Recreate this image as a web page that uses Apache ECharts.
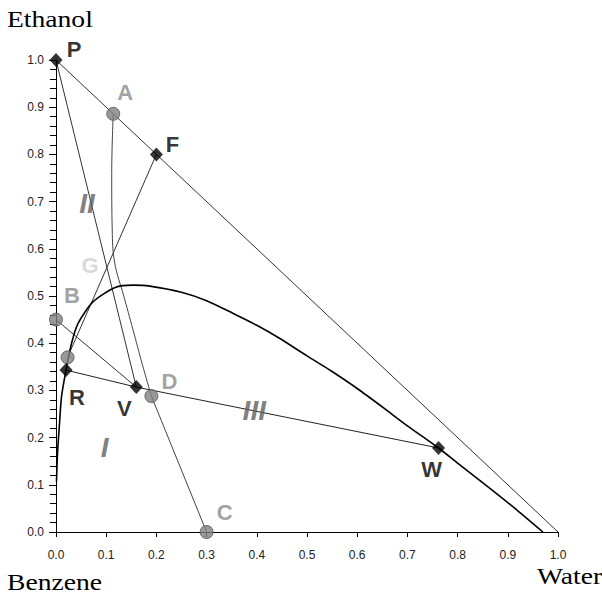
<!DOCTYPE html>
<html>
<head>
<meta charset="utf-8">
<script src="https://cdn.jsdelivr.net/npm/echarts@6/dist/echarts.min.js"></script>
<style>
  html, body { margin: 0; padding: 0; background: #fff; }
  #chart { width: 602px; height: 597px; }
</style>
</head>
<body>
<div id="chart"></div>
<script>
// tick labels
var tickLabels = ['0.0', '0.1', '0.2', '0.3', '0.4', '0.5', '0.6', '0.7', '0.8', '0.9', '1.0'];

// binodal curve (water fraction, ethanol fraction)
var binodalX = [0.001, 0.003, 0.007, 0.011, 0.020, 0.031, 0.044, 0.074, 0.118, 0.154, 0.187, 0.25, 0.30, 0.353, 0.40, 0.446, 0.50, 0.55, 0.60, 0.65, 0.70, 0.762, 0.80, 0.86, 0.92, 0.970];
var binodalY = [0.107, 0.167, 0.230, 0.287, 0.343, 0.400, 0.442, 0.488, 0.518, 0.523, 0.521, 0.508, 0.490, 0.463, 0.438, 0.410, 0.373, 0.340, 0.304, 0.265, 0.225, 0.178, 0.146, 0.096, 0.045, 0.0];

// curve from A down to D
var curveAX = [0.114, 0.111, 0.112, 0.117, 0.135, 0.153, 0.172, 0.19];
var curveAY = [0.886, 0.76, 0.64, 0.57, 0.50, 0.43, 0.355, 0.288];

// diamond points
var diamondNames = ['P', 'F', 'R', 'V', 'W'];
var diamondX = [0.0, 0.2, 0.02, 0.16, 0.762];
var diamondY = [1.0, 0.8, 0.343, 0.307, 0.178];

// circle points ('' = unlabeled)
var circleNames = ['A', 'B', 'C', 'D', ''];
var circleX = [0.114, 0.0, 0.3, 0.19, 0.023];
var circleY = [0.886, 0.45, 0.0, 0.288, 0.370];

// straight lines: [x1, y1, x2, y2]
var hypotenuse = [0, 1, 1, 0];
var linePV = [0, 1, 0.16, 0.307];
var lineFE = [0.2, 0.8, 0.023, 0.370];
var lineBV = [0, 0.45, 0.16, 0.307];
var lineDC = [0.19, 0.288, 0.3, 0.0];
var tieX = [0.02, 0.16, 0.762];
var tieY = [0.343, 0.307, 0.178];

// region labels
var regionNames = ['I', 'II', 'III', 'G'];
var regionX = [0.097, 0.062, 0.395, 0.068];
var regionY = [0.18, 0.696, 0.257, 0.565];

window.onload = function () {
  var chart = echarts.init(document.getElementById('chart'), null, { renderer: 'svg' });

  function zip(xs, ys) {
    var out = [];
    for (var i = 0; i < xs.length; i++) out.push([xs[i], ys[i]]);
    return out;
  }
  function seg(s) {
    return [[s[0], s[1]], [s[2], s[3]]];
  }
  function plainLine(data, width, color) {
    return {
      type: 'line', data: data, symbol: 'none', silent: true,
      lineStyle: { color: color || '#333', width: width || 1 },
      z: 2
    };
  }

  // label offsets in pixels from the marker centre
  var labelOffset = {
    P: [18, -11], F: [16, -10], R: [11, 27], V: [-12, 21], W: [-7, 22],
    A: [12, -21], B: [16, -24], C: [18, -20], D: [18, -15]
  };
  var regionColor = { I: '#5e5e5e', II: '#5e5e5e', III: '#5e5e5e', G: '#cfcfcf' };

  var diamondData = diamondNames.map(function (n, i) {
    return {
      value: [diamondX[i], diamondY[i]],
      label: { show: true, formatter: n, position: 'inside', offset: labelOffset[n] }
    };
  });
  var circleData = circleNames.map(function (n, i) {
    return {
      value: [circleX[i], circleY[i]],
      label: { show: n !== '', formatter: n, position: 'inside', offset: labelOffset[n] || [0, 0] }
    };
  });
  var regionData = regionNames.map(function (n, i) {
    return {
      value: [regionX[i], regionY[i]],
      label: {
        show: true, formatter: n, position: 'inside', color: regionColor[n],
        fontStyle: n === 'G' ? 'normal' : 'italic',
        fontSize: n === 'G' ? 22 : 28
      }
    };
  });

  var nameFont = '24px "Liberation Serif"';

  var option = {
    backgroundColor: '#fff',
    animation: false,
    grid: { left: 56, top: 60, width: 502, height: 472 },
    xAxis: {
      type: 'value', min: 0, max: 1, interval: 0.1,
      axisLine: { show: true, onZero: false, lineStyle: { color: '#000', width: 1 } },
      axisTick: { show: true, length: 5, lineStyle: { color: '#000', width: 1 } },
      axisLabel: {
        margin: 17, color: '#222', fontFamily: 'Liberation Sans', fontSize: 12,
        formatter: function (v) { return tickLabels[Math.round(v * 10)]; }
      },
      splitLine: { show: false }
    },
    yAxis: {
      type: 'value', min: 0, max: 1, interval: 0.1,
      axisLine: { show: true, onZero: false, lineStyle: { color: '#000', width: 1 } },
      axisTick: { show: true, length: 7, lineStyle: { color: '#000', width: 1 } },
      minorTick: { show: true, splitNumber: 5, length: 6, lineStyle: { color: '#000', width: 1 } },
      axisLabel: {
        margin: 12, color: '#222', fontFamily: 'Liberation Sans', fontSize: 12,
        formatter: function (v) { return tickLabels[Math.round(v * 10)]; }
      },
      splitLine: { show: false }
    },
    graphic: [
      { type: 'text', left: 7, top: 7, scaleX: 1.15, style: { text: 'Ethanol', font: nameFont, fill: '#000' } },
      { type: 'text', left: 7, top: 570, scaleX: 1.15, style: { text: 'Benzene', font: nameFont, fill: '#000' } },
      { type: 'text', left: 537, top: 564, scaleX: 1.15, style: { text: 'Water', font: nameFont, fill: '#000' } }
    ],
    series: [
      plainLine(seg(hypotenuse), 1, '#333'),
      plainLine(seg(linePV), 1, '#333'),
      plainLine(seg(lineFE), 1, '#333'),
      plainLine(seg(lineBV), 1, '#333'),
      plainLine(seg(lineDC), 1, '#444'),
      plainLine(zip(tieX, tieY), 1, '#222'),
      {
        type: 'line', data: zip(curveAX, curveAY), symbol: 'none', smooth: 0.4, silent: true,
        lineStyle: { color: '#444', width: 1 }, z: 2
      },
      {
        type: 'line', data: zip(binodalX, binodalY), symbol: 'none', smooth: 0.25, silent: true,
        lineStyle: { color: '#000', width: 1.6 }, z: 3
      },
      {
        type: 'scatter', data: circleData, symbol: 'circle', symbolSize: 13, z: 5,
        itemStyle: { color: '#7f7f7f', borderColor: '#555', borderWidth: 1 },
        label: { color: '#8a8a8a', fontFamily: 'Liberation Sans', fontWeight: 'bold', fontSize: 22 }
      },
      {
        type: 'scatter', data: diamondData, symbol: 'diamond', symbolSize: [13, 14], z: 5,
        itemStyle: { color: '#000' },
        label: { color: '#000', fontFamily: 'Liberation Sans', fontWeight: 'bold', fontSize: 22 }
      },
      {
        type: 'scatter', data: regionData, symbolSize: 0, z: 4,
        label: { fontFamily: 'Liberation Sans', fontWeight: 'bold' }
      }
    ]
  };

  chart.setOption(option);
};
</script>
</body>
</html>
